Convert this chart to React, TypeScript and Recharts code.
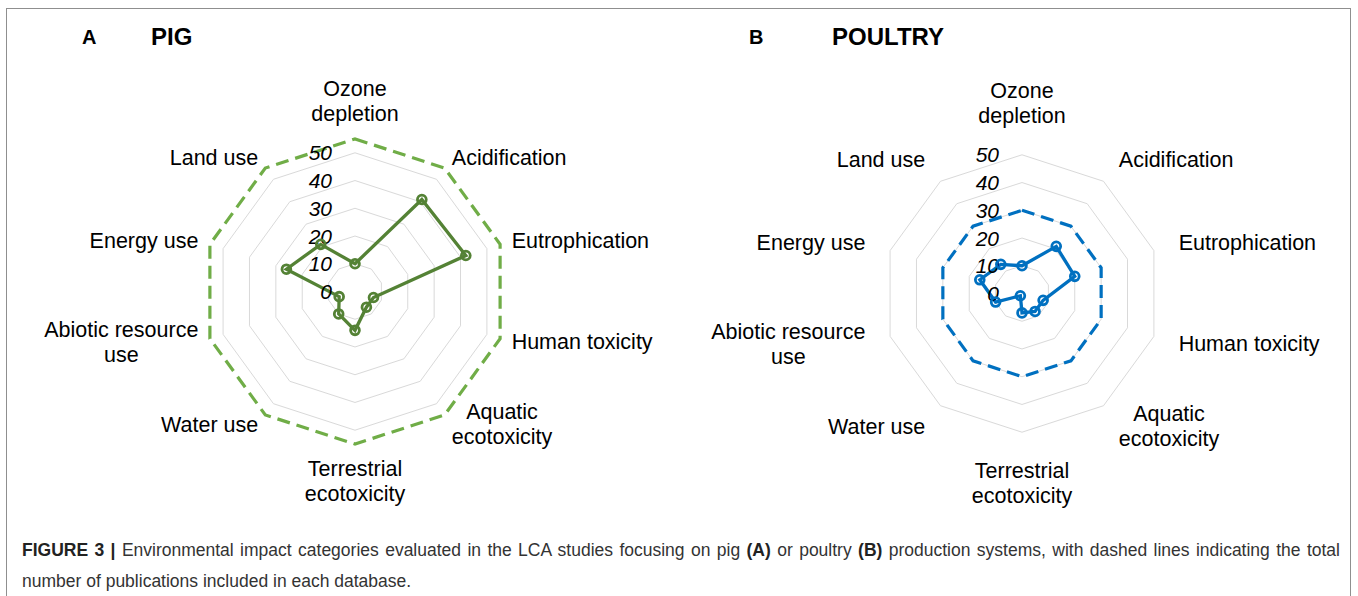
import React from 'react';
import { RadarChart, Radar, PolarGrid, PolarAngleAxis, PolarRadiusAxis } from 'recharts';

const categories = [
  'Ozone depletion',
  'Acidification',
  'Eutrophication',
  'Human toxicity',
  'Aquatic ecotoxicity',
  'Terrestrial ecotoxicity',
  'Water use',
  'Abiotic resource use',
  'Energy use',
  'Land use',
];

// how each category label wraps
const labelLines: Record<string, string[]> = {
  'Ozone depletion': ['Ozone', 'depletion'],
  'Aquatic ecotoxicity': ['Aquatic', 'ecotoxicity'],
  'Terrestrial ecotoxicity': ['Terrestrial', 'ecotoxicity'],
  'Abiotic resource use': ['Abiotic resource', 'use'],
};

const pigStudies = [10, 41, 42, 7, 7, 14, 10, 6, 26, 21];
const pigTotal = [55, 55, 55, 55, 55, 55, 55, 55, 55, 55];
const poultryStudies = [10, 21, 20, 8, 8, 7, 1, 10, 16, 13];
const poultryTotal = [30, 30, 30, 30, 30, 30, 30, 30, 30, 30];
const radiusDomain = [0, 50];

const FONT = '"Liberation Sans", Arial, sans-serif';
const LABEL_SIZE = 21.5;
const LINE_H = 25;

let ctx: CanvasRenderingContext2D | null = null;
const measure = (t: string) => {
  if (!ctx) ctx = document.createElement('canvas').getContext('2d');
  if (!ctx) return t.length * LABEL_SIZE * 0.5;
  ctx.font = `${LABEL_SIZE}px ${FONT}`;
  return ctx.measureText(t).width;
};

const AngleTick = (props: any) => {
  const { x, y, payload } = props;
  const lines = labelLines[payload.value] || [payload.value];
  const a = (payload.coordinate * Math.PI) / 180;
  const dx = Math.cos(a);
  const dy = -Math.sin(a);
  const blockH = lines.length * LINE_H;
  const w = Math.max(...lines.map(measure));
  let cxText = x;
  let top = y - blockH / 2;
  if (Math.abs(dx) < 0.01) {
    top = dy < 0 ? y - blockH : y;
  } else if (dx > 0) {
    cxText = x + w / 2;
  } else {
    cxText = x - w / 2;
  }
  return (
    <text fontFamily={FONT} fontSize={LABEL_SIZE} fill="#000" textAnchor="middle">
      {lines.map((l, i) => (
        <tspan key={i} x={cxText} y={top + LINE_H * i + LINE_H / 2} dominantBaseline="central">
          {l}
        </tspan>
      ))}
    </text>
  );
};

const RadiusTick = (props: any) => {
  const { x, y, payload } = props;
  return (
    <text
      x={x - 23}
      y={y}
      textAnchor="end"
      dominantBaseline="central"
      fontFamily={FONT}
      fontStyle="italic"
      fontSize={21}
      fill="#000"
    >
      {payload.value}
    </text>
  );
};

function Spider({ studies, total, line, dash, cy }: any) {
  const data = categories.map((c, i) => ({ category: c, studies: studies[i], total: total[i] }));
  return (
    <RadarChart
      width={679}
      height={510}
      data={data}
      cx={355}
      cy={cy}
      outerRadius={138.7}
      margin={{ top: 0, right: 0, bottom: 0, left: 0 }}
    >
      <PolarGrid gridType="polygon" radialLines={false} stroke="#d9d9d9" strokeWidth={1} />
      <PolarAngleAxis dataKey="category" tick={AngleTick} tickLine={false} axisLine={false} tickSize={26} />
      <PolarRadiusAxis
        angle={90}
        domain={radiusDomain}
        allowDataOverflow
        tickCount={6}
        axisLine={false}
        tick={RadiusTick}
      />
      <Radar
        dataKey="total"
        stroke={dash}
        strokeWidth={3.2}
        strokeDasharray="13 7"
        fill="none"
        fillOpacity={0}
        dot={false}
        isAnimationActive={false}
      />
      <Radar
        dataKey="studies"
        stroke={line}
        strokeWidth={3.3}
        fill="none"
        fillOpacity={0}
        dot={{ r: 4.4, fill: '#fff', stroke: line, strokeWidth: 2.8 }}
        isAnimationActive={false}
      />
    </RadarChart>
  );
}

const bold = { color: '#222', fontWeight: 700 };

export default function App() {
  return (
    <div style={{ position: 'absolute', left: 0, top: 0, width: 1358, height: 596, background: '#fff', fontFamily: FONT, overflow: 'hidden' }}>
      <div style={{ position: 'absolute', left: 6, top: 8, width: 1343, height: 620, border: '1px solid #8f8f8f' }} />
      <div style={{ position: 'absolute', left: 0, top: 0 }}>
        <Spider studies={pigStudies} total={pigTotal} line="#548235" dash="#70ad47" cy={291.5} />
      </div>
      <div style={{ position: 'absolute', left: 667, top: 0 }}>
        <Spider studies={poultryStudies} total={poultryTotal} line="#0070c0" dash="#0070c0" cy={293.5} />
      </div>
      <div style={{ position: 'absolute', left: 82, top: 25, fontSize: 20, fontWeight: 700, lineHeight: '24px' }}>A</div>
      <div style={{ position: 'absolute', left: 151, top: 23, fontSize: 24, fontWeight: 700, lineHeight: '28px' }}>PIG</div>
      <div style={{ position: 'absolute', left: 749, top: 25, fontSize: 20, fontWeight: 700, lineHeight: '24px' }}>B</div>
      <div style={{ position: 'absolute', left: 832, top: 23, fontSize: 24, fontWeight: 700, lineHeight: '28px' }}>POULTRY</div>
      <div style={{ position: 'absolute', left: 22, top: 535, width: 1318, fontSize: 17.5, lineHeight: '31px', color: '#333' }}>
        <div style={{ textAlign: 'justify', textAlignLast: 'justify', whiteSpace: 'normal' }}>
          <span style={bold}>FIGURE 3 |</span> Environmental impact categories evaluated in the LCA studies focusing on pig{' '}
          <span style={bold}>(A)</span> or poultry <span style={bold}>(B)</span> production systems, with dashed lines indicating the total
        </div>
        <div>number of publications included in each database.</div>
      </div>
    </div>
  );
}
